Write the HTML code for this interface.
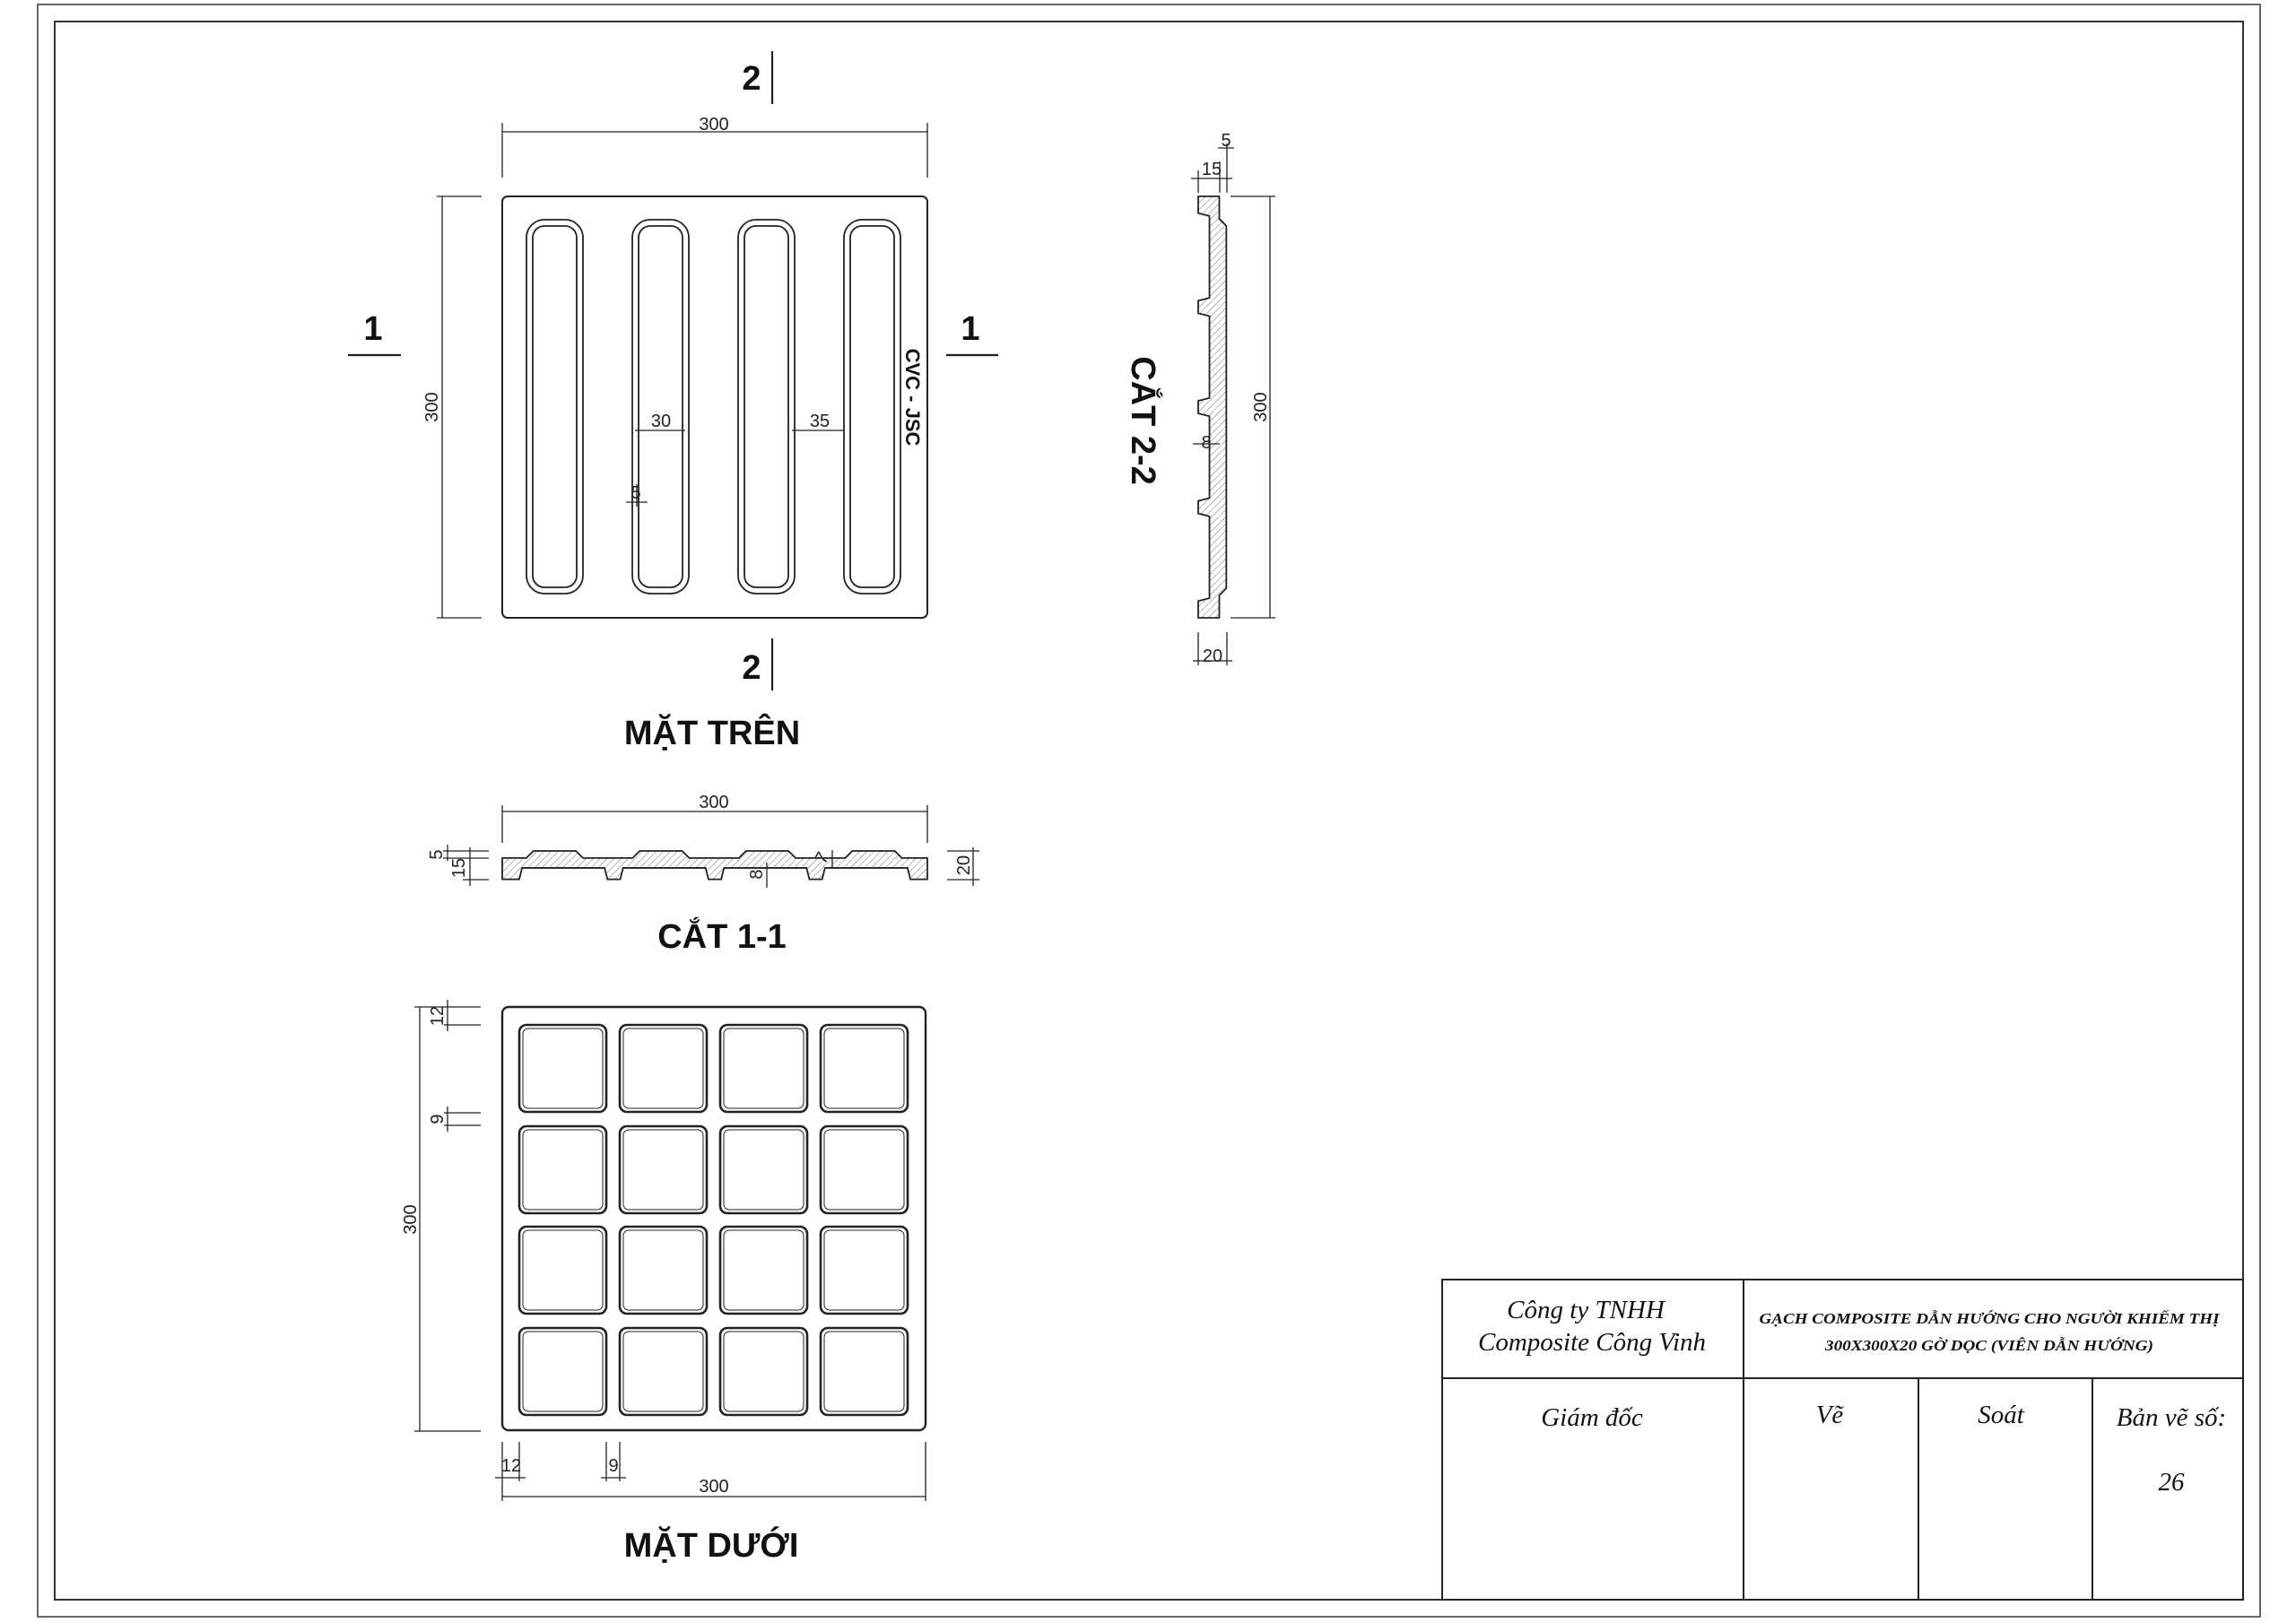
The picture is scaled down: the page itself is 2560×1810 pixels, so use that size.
<!DOCTYPE html>
<html><head><meta charset="utf-8">
<style>
html,body{margin:0;padding:0;background:#fff;}
svg{display:block;}
.d{font-family:"Liberation Sans",sans-serif;font-size:20px;fill:#222;}
.b{font-family:"Liberation Sans",sans-serif;font-weight:bold;fill:#111;}
.s{font-family:"Liberation Serif",serif;font-style:italic;fill:#111;}
</style></head><body>
<svg width="2560" height="1810" viewBox="0 0 2560 1810" xmlns="http://www.w3.org/2000/svg">
<defs>
<pattern id="h" width="3.5" height="3.5" patternUnits="userSpaceOnUse" patternTransform="rotate(45)">
<line x1="0" y1="0" x2="0" y2="3.5" stroke="#333" stroke-width="0.45"/>
</pattern>
</defs>
<rect width="2560" height="1810" fill="#fff"/>
<!-- frames -->
<rect x="42" y="5" width="2478" height="1798" fill="none" stroke="#666" stroke-width="2"/>
<rect x="61" y="24" width="2440" height="1760" fill="none" stroke="#333" stroke-width="2"/>

<g stroke="#222" fill="none" stroke-width="2">
<!-- TOP VIEW -->
<rect x="560" y="219" width="474" height="470" rx="6"/>
<g stroke-width="1.8">
<rect x="587" y="245" width="63" height="417" rx="20"/><rect x="594" y="252" width="49" height="403" rx="13"/>
<rect x="705" y="245" width="63" height="417" rx="20"/><rect x="712" y="252" width="49" height="403" rx="13"/>
<rect x="823" y="245" width="63" height="417" rx="20"/><rect x="830" y="252" width="49" height="403" rx="13"/>
<rect x="941" y="245" width="63" height="417" rx="20"/><rect x="948" y="252" width="49" height="403" rx="13"/>
</g>
<g stroke-width="1.3">
<line x1="560" y1="147" x2="1034" y2="147"/><line x1="560" y1="137" x2="560" y2="198"/><line x1="1034" y1="137" x2="1034" y2="198"/>
<line x1="493" y1="219" x2="493" y2="689"/><line x1="487" y1="219" x2="537" y2="219"/><line x1="487" y1="689" x2="537" y2="689"/>
<line x1="708" y1="480" x2="764" y2="480"/><line x1="883" y1="480" x2="942" y2="480"/>
<line x1="698" y1="560" x2="722" y2="560"/><line x1="710" y1="540" x2="710" y2="565"/>
</g>
<line x1="861" y1="57" x2="861" y2="116" stroke-width="2.2"/>
<line x1="861" y1="712" x2="861" y2="770" stroke-width="2.2"/>
<line x1="388" y1="396" x2="447" y2="396" stroke-width="2.2"/>
<line x1="1055" y1="396" x2="1113" y2="396" stroke-width="2.2"/>

<!-- SECTION 2-2 -->
<g transform="translate(1336,219) scale(1.5667)">
<path d="M0,0 L15,0 L15,16 L20,21 L20,279 L15,284 L15,300 L0,300 L0,288 L8,286 L8,227.75 L0,225.75 L0,216.75 L8,214.75 L8,156.5 L0,154.5 L0,145.5 L8,143.5 L8,85.25 L0,83.25 L0,74.25 L8,72.25 L8,14 L0,12 Z" fill="url(#h)" stroke="#222" stroke-width="1.8" vector-effect="non-scaling-stroke"/>
</g>
<g stroke-width="1.3">
<line x1="1416" y1="219" x2="1416" y2="689"/><line x1="1372" y1="219" x2="1422" y2="219"/><line x1="1372" y1="689" x2="1422" y2="689"/>
<line x1="1328" y1="199" x2="1374" y2="199"/><line x1="1336" y1="190" x2="1336" y2="215"/><line x1="1360" y1="180" x2="1360" y2="215"/><line x1="1368" y1="160" x2="1368" y2="215"/>
<line x1="1358" y1="165" x2="1376" y2="165"/>
<line x1="1330" y1="737" x2="1374" y2="737"/><line x1="1336" y1="705" x2="1336" y2="742"/><line x1="1368" y1="705" x2="1368" y2="742"/>
<line x1="1330" y1="495" x2="1360" y2="495"/>
</g>

<!-- SECTION 1-1 -->
<g transform="translate(560,949) scale(1.58)">
<path d="M0,5 L17,5 L22,0 L52,0 L57,5 L92,5 L97,0 L127,0 L132,5 L167,5 L172,0 L202,0 L207,5 L242,5 L247,0 L277,0 L282,5 L300,5 L300,20 L288,20 L286,12 L227.75,12 L225.75,20 L216.75,20 L214.75,12 L156.5,12 L154.5,20 L145.5,20 L143.5,12 L85.25,12 L83.25,20 L74.25,20 L72.25,12 L14,12 L12,20 L0,20 Z" fill="url(#h)" stroke="#222" stroke-width="1.8" vector-effect="non-scaling-stroke"/>
</g>
<g stroke-width="1.3">
<line x1="560" y1="905" x2="1034" y2="905"/><line x1="560" y1="898" x2="560" y2="940"/><line x1="1034" y1="898" x2="1034" y2="940"/>
<line x1="499" y1="942" x2="499" y2="960"/><line x1="524" y1="945" x2="524" y2="988"/>
<line x1="494" y1="949" x2="545" y2="949"/><line x1="494" y1="957" x2="545" y2="957"/><line x1="516" y1="981" x2="545" y2="981"/>
<line x1="1085" y1="945" x2="1085" y2="988"/><line x1="1056" y1="949" x2="1092" y2="949"/><line x1="1056" y1="981" x2="1092" y2="981"/>
<line x1="855" y1="962" x2="855" y2="990"/><line x1="928" y1="948" x2="928" y2="968"/>
</g>

<!-- BOTTOM VIEW -->
<rect x="560" y="1123" width="472" height="472" rx="7" stroke-width="2.4"/>
<g stroke-width="2.6">
<rect x="579" y="1143" width="97" height="97" rx="8"/><rect x="691" y="1143" width="97" height="97" rx="8"/><rect x="803" y="1143" width="97" height="97" rx="8"/><rect x="915" y="1143" width="97" height="97" rx="8"/>
<rect x="579" y="1256" width="97" height="97" rx="8"/><rect x="691" y="1256" width="97" height="97" rx="8"/><rect x="803" y="1256" width="97" height="97" rx="8"/><rect x="915" y="1256" width="97" height="97" rx="8"/>
<rect x="579" y="1368" width="97" height="97" rx="8"/><rect x="691" y="1368" width="97" height="97" rx="8"/><rect x="803" y="1368" width="97" height="97" rx="8"/><rect x="915" y="1368" width="97" height="97" rx="8"/>
<rect x="579" y="1481" width="97" height="97" rx="8"/><rect x="691" y="1481" width="97" height="97" rx="8"/><rect x="803" y="1481" width="97" height="97" rx="8"/><rect x="915" y="1481" width="97" height="97" rx="8"/>
</g>
<g stroke-width="1">
<rect x="583" y="1147" width="89" height="89" rx="6"/><rect x="695" y="1147" width="89" height="89" rx="6"/><rect x="807" y="1147" width="89" height="89" rx="6"/><rect x="919" y="1147" width="89" height="89" rx="6"/>
<rect x="583" y="1260" width="89" height="89" rx="6"/><rect x="695" y="1260" width="89" height="89" rx="6"/><rect x="807" y="1260" width="89" height="89" rx="6"/><rect x="919" y="1260" width="89" height="89" rx="6"/>
<rect x="583" y="1372" width="89" height="89" rx="6"/><rect x="695" y="1372" width="89" height="89" rx="6"/><rect x="807" y="1372" width="89" height="89" rx="6"/><rect x="919" y="1372" width="89" height="89" rx="6"/>
<rect x="583" y="1485" width="89" height="89" rx="6"/><rect x="695" y="1485" width="89" height="89" rx="6"/><rect x="807" y="1485" width="89" height="89" rx="6"/><rect x="919" y="1485" width="89" height="89" rx="6"/>
</g>
<g stroke-width="1.3">
<line x1="468" y1="1123" x2="468" y2="1596"/><line x1="462" y1="1123" x2="536" y2="1123"/><line x1="462" y1="1596" x2="536" y2="1596"/>
<line x1="499" y1="1115" x2="499" y2="1150"/><line x1="495" y1="1143" x2="536" y2="1143"/>
<line x1="499" y1="1234" x2="499" y2="1262"/><line x1="495" y1="1241" x2="536" y2="1241"/><line x1="495" y1="1255" x2="536" y2="1255"/>
<line x1="560" y1="1608" x2="560" y2="1674"/><line x1="579" y1="1608" x2="579" y2="1652"/><line x1="552" y1="1648" x2="586" y2="1648"/>
<line x1="676" y1="1608" x2="676" y2="1652"/><line x1="691" y1="1608" x2="691" y2="1652"/><line x1="670" y1="1648" x2="698" y2="1648"/>
<line x1="1032" y1="1608" x2="1032" y2="1674"/><line x1="560" y1="1669" x2="1032" y2="1669"/>
</g>

<!-- TITLE BLOCK -->
<g stroke-width="2">
<rect x="1608" y="1427" width="893" height="357"/>
<line x1="1608" y1="1537" x2="2501" y2="1537"/>
<line x1="1944" y1="1427" x2="1944" y2="1784"/>
<line x1="2139" y1="1537" x2="2139" y2="1784"/>
<line x1="2333" y1="1537" x2="2333" y2="1784"/>
</g>
</g>

<!-- TEXT -->
<text class="d" x="796" y="145" text-anchor="middle">300</text>
<text class="d" transform="translate(488,454) rotate(-90)" text-anchor="middle">300</text>
<text class="d" x="737" y="476" text-anchor="middle">30</text>
<text class="d" x="914" y="476" text-anchor="middle">35</text>
<text class="d" x="709" y="556" text-anchor="middle" font-size="18">5</text>
<text class="b" transform="translate(1010,443) rotate(90)" text-anchor="middle" font-size="22">CVC - JSC</text>
<text class="b" x="838" y="100" text-anchor="middle" font-size="38">2</text>
<text class="b" x="838" y="757" text-anchor="middle" font-size="38">2</text>
<text class="b" x="416" y="379" text-anchor="middle" font-size="38">1</text>
<text class="b" x="1082" y="379" text-anchor="middle" font-size="38">1</text>
<text class="b" x="794" y="830" text-anchor="middle" font-size="38">MẶT TRÊN</text>

<text class="d" transform="translate(1412,454) rotate(-90)" text-anchor="middle">300</text>
<text class="d" x="1351" y="195" text-anchor="middle">15</text>
<text class="d" x="1367" y="163" text-anchor="middle">5</text>
<text class="d" x="1352" y="738" text-anchor="middle">20</text>
<text class="d" x="1345" y="500" text-anchor="middle" font-size="18">8</text>
<text class="b" transform="translate(1262,469) rotate(90)" text-anchor="middle" font-size="38">CẮT 2-2</text>

<text class="d" x="796" y="901" text-anchor="middle">300</text>
<text class="d" transform="translate(493,953) rotate(-90)" text-anchor="middle" font-size="18">5</text>
<text class="d" transform="translate(518,968) rotate(-90)" text-anchor="middle" font-size="18">15</text>
<text class="d" transform="translate(1081,965) rotate(-90)" text-anchor="middle">20</text>
<text class="d" transform="translate(850,975) rotate(-90)" text-anchor="middle" font-size="18">8</text>
<text class="d" transform="translate(922,960) rotate(-60)" text-anchor="middle" font-size="18">7</text>
<text class="b" x="805" y="1057" text-anchor="middle" font-size="38">CẮT 1-1</text>

<text class="d" transform="translate(464,1360) rotate(-90)" text-anchor="middle">300</text>
<text class="d" transform="translate(494,1133) rotate(-90)" text-anchor="middle" font-size="18">12</text>
<text class="d" transform="translate(494,1248) rotate(-90)" text-anchor="middle" font-size="18">9</text>
<text class="d" x="570" y="1641" text-anchor="middle" font-size="18">12</text>
<text class="d" x="684" y="1641" text-anchor="middle" font-size="18">9</text>
<text class="d" x="796" y="1664" text-anchor="middle">300</text>
<text class="b" x="793" y="1736" text-anchor="middle" font-size="38">MẶT DƯỚI</text>

<text class="s" x="1768" y="1470" text-anchor="middle" font-size="29">Công ty  TNHH</text>
<text class="s" x="1775" y="1506" text-anchor="middle" font-size="29">Composite Công Vinh</text>
<text class="s" x="2218" y="1476" text-anchor="middle" font-size="17" font-weight="bold" textLength="513" lengthAdjust="spacingAndGlyphs">GẠCH COMPOSITE DẪN HƯỚNG CHO NGƯỜI KHIẾM THỊ</text>
<text class="s" x="2218" y="1506" text-anchor="middle" font-size="17" font-weight="bold" textLength="366" lengthAdjust="spacingAndGlyphs">300X300X20 GỜ DỌC (VIÊN DẪN HƯỚNG)</text>
<text class="s" x="1775" y="1590" text-anchor="middle" font-size="29">Giám đốc</text>
<text class="s" x="2040" y="1587" text-anchor="middle" font-size="29">Vẽ</text>
<text class="s" x="2231" y="1587" text-anchor="middle" font-size="29">Soát</text>
<text class="s" x="2421" y="1590" text-anchor="middle" font-size="29">Bản vẽ số:</text>
<text class="s" x="2421" y="1662" text-anchor="middle" font-size="29">26</text>
</svg>
</body></html>
